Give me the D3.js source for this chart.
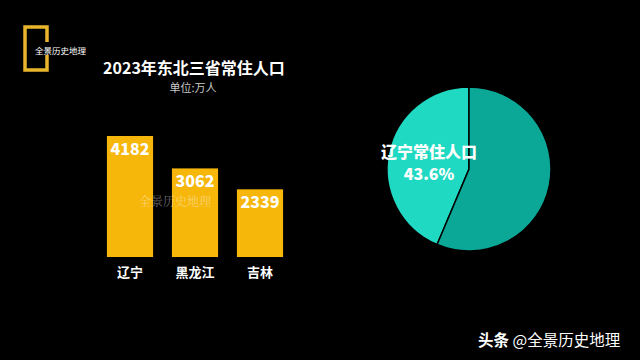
<!DOCTYPE html>
<html>
<head>
<meta charset="utf-8">
<script src="https://cdn.jsdelivr.net/npm/d3@7"></script>
<style>
  html, body { margin: 0; padding: 0; background: #000; }
  svg { display: block; font-family: "Noto Sans CJK SC", "Noto Sans", sans-serif; }
</style>
</head>
<body>
<svg id="chart"></svg>
<script>
const provinces = ["辽宁", "黑龙江", "吉林"];
const population = [4182, 3062, 2339];
const pieLabels = ["辽宁常住人口", "其他"];

const width = 640, height = 360;
const svg = d3.select("#chart").attr("width", width).attr("height", height);

svg.append("rect").attr("width", width).attr("height", height).attr("fill", "#000");

// brand mark top-left
const gold = "#e9b52d";
const logo = svg.append("g");
logo.append("path")
  .attr("d", "M47,42 V27 H25 V70 H47 V55")
  .attr("fill", "none")
  .attr("stroke", gold)
  .attr("stroke-width", 3.5);
logo.append("text")
  .attr("x", 35).attr("y", 54)
  .attr("fill", "#fff").attr("font-size", 8.5)
  .text("全景历史地理");

// title
svg.append("text")
  .attr("x", 194).attr("y", 74)
  .attr("text-anchor", "middle")
  .attr("fill", "#fff").attr("font-size", 16).attr("font-weight", "bold")
  .text("2023年东北三省常住人口");
svg.append("text")
  .attr("x", 193).attr("y", 92)
  .attr("text-anchor", "middle")
  .attr("fill", "#c8c8c8").attr("font-size", 11)
  .text("单位:万人");

// bars
const x = d3.scaleBand()
  .domain(provinces)
  .range([97.5, 292.5])
  .paddingInner(0.29)
  .paddingOuter(0.145);

const y = d3.scaleLinear()
  .domain([0, d3.max(population)])
  .range([257, 136]);

const data = provinces.map((p, i) => ({ name: p, value: population[i] }));

svg.selectAll(".bar")
  .data(data)
  .join("rect")
  .attr("class", "bar")
  .attr("x", d => x(d.name))
  .attr("width", x.bandwidth())
  .attr("y", d => y(d.value))
  .attr("height", d => y(0) - y(d.value))
  .attr("fill", "#f6b60a");

svg.selectAll(".val")
  .data(data)
  .join("text")
  .attr("class", "val")
  .attr("x", d => x(d.name) + x.bandwidth() / 2)
  .attr("y", d => y(d.value) + 19)
  .attr("text-anchor", "middle")
  .attr("fill", "#fff").attr("font-size", 16).attr("font-weight", 900)
  .text(d => d.value);

svg.selectAll(".cat")
  .data(data)
  .join("text")
  .attr("class", "cat")
  .attr("x", d => x(d.name) + x.bandwidth() / 2)
  .attr("y", 277)
  .attr("text-anchor", "middle")
  .attr("fill", "#fff").attr("font-size", 13).attr("font-weight", "bold")
  .text(d => d.name);

// faint watermark over bars
svg.append("text")
  .attr("x", 175).attr("y", 206)
  .attr("text-anchor", "middle")
  .attr("fill", "rgba(255,255,255,0.4)")
  .attr("font-size", 12)
  .attr("font-family", "'Noto Serif CJK SC', 'DejaVu Serif', serif")
  .text("全景历史地理");

// pie: Liaoning vs the other two
const total = d3.sum(population);
const pieData = [population[0], total - population[0]];
const pie = d3.pie().sort(null).startAngle(0).endAngle(-2 * Math.PI);
const arcs = pie(pieData);
const r = 82;
const arc = d3.arc().innerRadius(0).outerRadius(r);
const pieColors = ["#1fd9c2", "#0ba898"];

const pg = svg.append("g").attr("transform", "translate(469,169)");
pg.selectAll("path")
  .data(arcs)
  .join("path")
  .attr("d", arc)
  .attr("fill", (d, i) => pieColors[i])
  .attr("stroke", "#000")
  .attr("stroke-width", 1.5);

pg.append("text")
  .attr("x", -40).attr("y", -11)
  .attr("text-anchor", "middle")
  .attr("fill", "#fff").attr("font-size", 16).attr("font-weight", 900)
  .text(pieLabels[0]);
pg.append("text")
  .attr("x", -40).attr("y", 11)
  .attr("text-anchor", "middle")
  .attr("fill", "#fff").attr("font-size", 16).attr("font-weight", 900)
  .text(d3.format(".1%")(pieData[0] / total));

// source credit
const credit = svg.append("text")
  .attr("x", 478).attr("y", 346)
  .attr("fill", "#fff").attr("font-size", 15.5);
credit.append("tspan").attr("font-weight", "bold").text("头条 ");
credit.append("tspan").text("@全景历史地理");
</script>
</body>
</html>
